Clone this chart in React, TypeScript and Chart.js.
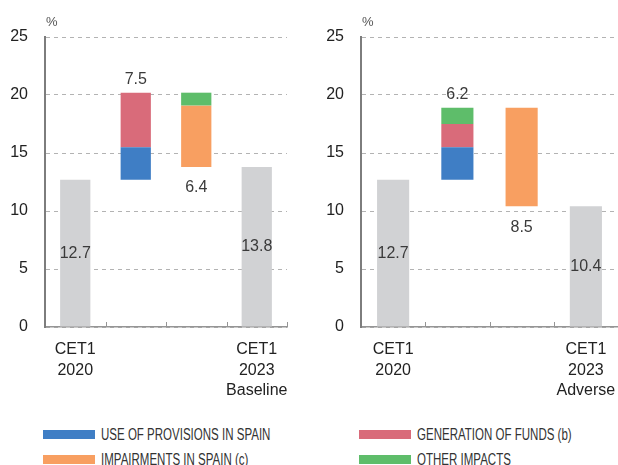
import React, { useEffect, useRef } from "react";
import { Chart, registerables } from "chart.js";

Chart.register(...registerables);

// ---- Data ----
const scenarioNames = ["Baseline", "Adverse"];
const startCategory = ["CET1", "2020"];
const endCategory = ["CET1", "2023"];
const cet1Start = [12.7, 12.7];
const useOfProvisions = [2.8, 2.8];
const generationOfFunds = [4.7, 2.0];
const otherImpacts = [-1.1, 1.4];
const impairments = [-5.3, -8.5];
const yTickValues = [0, 5, 10, 15, 20, 25];
const legendNames = [
  "USE OF PROVISIONS IN SPAIN",
  "GENERATION OF FUNDS (b)",
  "IMPAIRMENTS IN SPAIN (c)",
  "OTHER IMPACTS",
];

const COLORS = {
  use: "#3F7EC5",
  gen: "#D96B7A",
  imp: "#F89F61",
  other: "#5EBD6A",
  cet1: "#D1D2D4",
};
const legendColors = [COLORS.use, COLORS.gen, COLORS.imp, COLORS.other];

const FONT = "'Liberation Sans', Arial, Helvetica, sans-serif";
Chart.defaults.font.family = FONT;

type LabelSpec = { index: number; value: number; text: string; pos: "center" | "above" | "below" };

function buildScenario(i: number) {
  const start = cet1Start[i];
  const comps = [
    { name: legendNames[0], value: useOfProvisions[i], color: COLORS.use },
    { name: legendNames[1], value: generationOfFunds[i], color: COLORS.gen },
    { name: legendNames[3], value: otherImpacts[i], color: COLORS.other },
    { name: legendNames[2], value: impairments[i], color: COLORS.imp },
  ];
  const datasets: any[] = [];
  let level = start;
  comps
    .filter((c) => c.value > 0)
    .forEach((c) => {
      datasets.push({
        label: c.name,
        data: [null, [level, level + c.value], null, null],
        backgroundColor: c.color,
      });
      level += c.value;
    });
  const top = level;
  comps
    .filter((c) => c.value < 0)
    .forEach((c) => {
      datasets.push({
        label: c.name,
        data: [null, null, [level + c.value, level], null],
        backgroundColor: c.color,
      });
      level += c.value;
    });
  const end = level;
  datasets.unshift({
    label: "CET1",
    data: [[0, start], null, null, [0, end]],
    backgroundColor: COLORS.cet1,
  });
  const labels: LabelSpec[] = [
    { index: 0, value: start / 2, text: start.toFixed(1), pos: "center" },
    { index: 1, value: top, text: (top - start).toFixed(1), pos: "above" },
    { index: 2, value: end, text: (top - end).toFixed(1), pos: "below" },
    { index: 3, value: end / 2, text: end.toFixed(1), pos: "center" },
  ];
  const categories = [startCategory, "", "", [...endCategory, scenarioNames[i]]];
  return { datasets, labels, categories };
}

function makeOverlay(labels: LabelSpec[]) {
  return {
    id: "overlay",
    afterDatasetsDraw(chart: any) {
      const { ctx, chartArea } = chart;
      const x = chart.scales.x;
      const y = chart.scales.y;
      ctx.save();
      // category boundary ticks on x axis (pointing up)
      const n = chart.data.labels.length;
      ctx.strokeStyle = "#959595";
      ctx.lineWidth = 1;
      for (let i = 0; i < n; i++) {
        const c = x.getPixelForValue(i);
        const next = i < n - 1 ? x.getPixelForValue(i + 1) : c + (c - x.getPixelForValue(i - 1));
        const bx = Math.round((c + next) / 2) + 0.5;
        ctx.beginPath();
        ctx.moveTo(bx, chartArea.bottom - 5);
        ctx.lineTo(bx, chartArea.bottom);
        ctx.stroke();
      }
      // unit label
      ctx.fillStyle = "#555";
      ctx.font = `13px ${FONT}`;
      ctx.textAlign = "left";
      ctx.textBaseline = "middle";
      ctx.fillText("%", chartArea.left + 1, chartArea.top - 15);
      // value labels
      ctx.font = `16px ${FONT}`;
      ctx.fillStyle = "#3a3a3a";
      ctx.textAlign = "center";
      labels.forEach((l) => {
        const px = x.getPixelForValue(l.index);
        let py = y.getPixelForValue(l.value);
        if (l.pos === "above") py -= 13;
        else if (l.pos === "below") py += 21;
        ctx.fillText(l.text, px, py);
      });
      ctx.restore();
    },
  };
}

function makeConfig(i: number, yWidth: number, rightPad: number) {
  const { datasets, labels, categories } = buildScenario(i);
  return {
    type: "bar" as const,
    data: { labels: categories, datasets },
    options: {
      animation: false as const,
      responsive: false,
      layout: { padding: { top: 37, right: rightPad, bottom: 3, left: 0 } },
      plugins: { legend: { display: false }, tooltip: { enabled: false } },
      datasets: { bar: { grouped: false, barPercentage: 0.5, categoryPercentage: 1 } },
      scales: {
        x: {
          grid: { display: false, drawTicks: false },
          border: { display: true, color: "#959595", width: 1.5 },
          ticks: {
            color: "#222",
            font: { family: FONT, size: 16, lineHeight: 1.3 },
            padding: 12,
            maxRotation: 0,
            autoSkip: false,
          },
          afterFit: (s: any) => {
            s.height = 80;
            s.paddingLeft = 0;
            s.paddingRight = 0;
          },
        },
        y: {
          min: yTickValues[0],
          max: yTickValues[yTickValues.length - 1],
          afterBuildTicks: (s: any) => {
            s.ticks = yTickValues.map((v) => ({ value: v }));
          },
          ticks: {
            color: "#222",
            font: { family: FONT, size: 16 },
            padding: 17,
          },
          grid: { color: "#b3b3b3", drawTicks: false, lineWidth: 1 },
          border: { display: true, color: "#7d7d7d", width: 2, dash: [4, 4] },
          afterFit: (s: any) => {
            s.width = yWidth;
          },
        },
      },
    },
    plugins: [makeOverlay(labels)],
  };
}

export default function App() {
  const leftRef = useRef<HTMLCanvasElement>(null);
  const rightRef = useRef<HTMLCanvasElement>(null);

  useEffect(() => {
    const a = new Chart(leftRef.current as HTMLCanvasElement, makeConfig(0, 45, 23) as any);
    const b = new Chart(rightRef.current as HTMLCanvasElement, makeConfig(1, 51, 0) as any);
    return () => {
      a.destroy();
      b.destroy();
    };
  }, []);

  return (
    <div
      style={{
        position: "absolute",
        left: 0,
        top: 0,
        width: 618,
        height: 465,
        overflow: "hidden",
        background: "#fff",
      }}
    >
      <canvas
        ref={leftRef}
        width={310}
        height={410}
        style={{ position: "absolute", left: 0, top: 0, width: 310, height: 410 }}
      />
      <canvas
        ref={rightRef}
        width={308}
        height={410}
        style={{ position: "absolute", left: 310, top: 0, width: 308, height: 410 }}
      />
      {legendNames.map((name, k) => {
        const left = k % 2 === 0 ? 43 : 359;
        const top = 430 + Math.floor(k / 2) * 25;
        return (
          <div key={name}>
            <div
              style={{
                position: "absolute",
                left,
                top,
                width: 52,
                height: 9,
                background: legendColors[k],
              }}
            />
            <div
              style={{
                position: "absolute",
                left: left + 58,
                top: top - 3,
                fontFamily: FONT,
                fontSize: 16,
                lineHeight: "16px",
                color: "#333",
                whiteSpace: "nowrap",
                transform: "scaleX(0.72)",
                transformOrigin: "left center",
              }}
            >
              {name}
            </div>
          </div>
        );
      })}
    </div>
  );
}
